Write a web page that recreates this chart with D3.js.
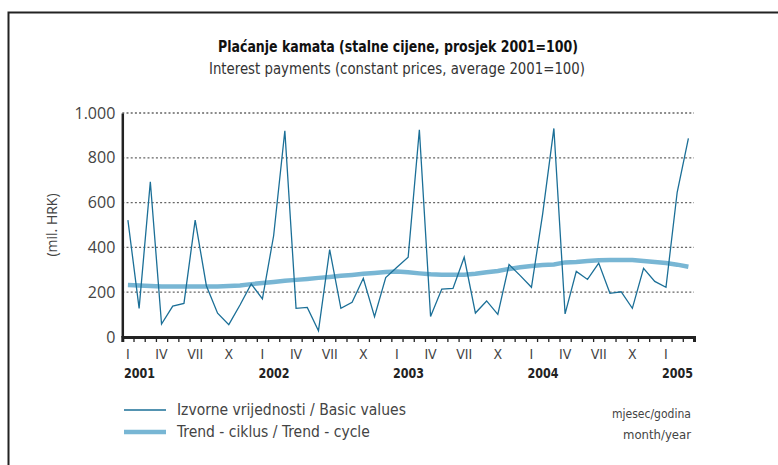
<!DOCTYPE html>
<html>
<head>
<meta charset="utf-8">
<script src="https://cdn.jsdelivr.net/npm/d3@7"></script>
<style>
  body { margin: 0; background: #fff; }
  svg text { font-family: "Liberation Sans Narrow", "DejaVu Sans Condensed", "Open Sans", sans-serif; fill: #333; }
</style>
</head>
<body>
<div id="chart"></div>
<script>
// Izvorne vrijednosti / Basic values, I 2001 - III 2005
var basicValues = [522, 128, 693, 58, 138, 150, 522, 229, 106, 55, 143, 237,
  170, 452, 921, 128, 132, 28, 390, 128, 155, 262, 91, 265,
  311, 356, 925, 92, 214, 217, 356, 107, 161, 101, 323, 274,
  222, 550, 931, 103, 293, 257, 330, 195, 202, 128, 307, 248,
  222, 646, 887];

// Trend - ciklus / Trend - cycle
var trendValues = [232, 230, 228, 226, 226, 226, 226, 226, 226, 228, 230, 236,
  241, 246, 251, 255, 259, 264, 268, 273, 277, 282, 286, 290,
  292, 289, 284, 280, 278, 278, 278, 282, 289, 295, 304, 311,
  317, 321, 324, 333, 335, 339, 343, 344, 344, 344, 339, 335,
  330, 323, 314];

var monthLabels = ["I", "II", "III", "IV", "V", "VI", "VII", "VIII", "IX", "X", "XI", "XII"];
var shownMonths = ["I", "IV", "VII", "X"];
var years = [2001, 2002, 2003, 2004, 2005];
var yTicks = [0, 200, 400, 600, 800, 1000];

var W = 778, H = 465;
var x0 = 122.3, x1 = 694, y0 = 337, y1 = 113;

var svg = d3.select("#chart").append("svg")
  .attr("width", W).attr("height", H);

// okvir
svg.append("rect")
  .attr("x", 8.5).attr("y", 12.5)
  .attr("width", 800).attr("height", 500)
  .attr("fill", "none").attr("stroke", "#222").attr("stroke-width", 2);

// naslovi
svg.append("text")
  .attr("x", 398).attr("y", 52)
  .attr("text-anchor", "middle")
  .style("font-size", "15px").style("font-weight", "bold").style("fill", "#111")
  .attr("textLength", 360).attr("lengthAdjust", "spacingAndGlyphs")
  .text("Plaćanje kamata (stalne cijene, prosjek 2001=100)");

svg.append("text")
  .attr("x", 397).attr("y", 74)
  .attr("text-anchor", "middle")
  .style("font-size", "15px")
  .attr("textLength", 376).attr("lengthAdjust", "spacingAndGlyphs")
  .text("Interest payments (constant prices, average 2001=100)");

var n = basicValues.length;
var x = d3.scaleLinear().domain([0, n]).range([x0, x1]);
var y = d3.scaleLinear().domain([0, 1000]).range([y0, y1]);

// mreža
svg.append("g").selectAll("line")
  .data(yTicks.filter(function (d) { return d > 0; }))
  .enter().append("line")
  .attr("x1", x0).attr("x2", x1)
  .attr("y1", function (d) { return y(d); })
  .attr("y2", function (d) { return y(d); })
  .attr("stroke", "#666").attr("stroke-width", 1.3)
  .attr("stroke-dasharray", "2,2.2");

// y os
var yAxis = d3.axisLeft(y).tickValues(yTicks).tickSize(0).tickPadding(7)
  .tickFormat(function (d) { return d3.format(",")(d).replace(",", "."); });

var gy = svg.append("g").attr("transform", "translate(" + x0 + ",0)").call(yAxis);
gy.select(".domain").attr("stroke", "#222").attr("stroke-width", 2.5);
gy.selectAll("text").style("font-size", "16px").style("fill", "#444")
  .style("font-family", "'Open Sans', sans-serif");

svg.append("text")
  .attr("transform", "translate(57,225) rotate(-90)")
  .attr("text-anchor", "middle")
  .style("font-size", "14px").style("fill", "#444")
  .style("font-family", "'Open Sans', sans-serif")
  .text("(mil. HRK)");

// x os
var xAxis = d3.axisBottom(x).tickValues(d3.range(0, n + 1)).tickSize(5)
  .tickFormat("");
var gx = svg.append("g").attr("transform", "translate(0," + y0 + ")").call(xAxis);
gx.select(".domain").attr("stroke", "#222").attr("stroke-width", 3);
gx.selectAll(".tick line").attr("stroke", "#222").attr("stroke-width", 1.3);

svg.append("g").selectAll("text")
  .data(d3.range(0, n).filter(function (i) {
    return shownMonths.indexOf(monthLabels[i % 12]) >= 0;
  }))
  .enter().append("text")
  .attr("x", function (i) { return x(i + 0.5); })
  .attr("y", 359)
  .attr("text-anchor", "middle")
  .style("font-size", "14px").style("fill", "#444")
  .text(function (i) { return monthLabels[i % 12]; });

svg.append("g").selectAll("text")
  .data(years)
  .enter().append("text")
  .attr("x", function (d, k) { return x(k * 12 + 0.5) - 4; })
  .attr("y", 378)
  .style("font-size", "14px").style("font-weight", "bold").style("fill", "#222")
  .attr("textLength", 31).attr("lengthAdjust", "spacingAndGlyphs")
  .text(function (d) { return d; });

// linije
var line = d3.line()
  .x(function (d, i) { return x(i + 0.5); })
  .y(function (d) { return y(d); });

svg.append("path")
  .datum(trendValues)
  .attr("d", line)
  .attr("fill", "none")
  .attr("stroke", "#78b6d4")
  .attr("stroke-width", 4.5);

svg.append("path")
  .datum(basicValues)
  .attr("d", line)
  .attr("fill", "none")
  .attr("stroke", "#1b6f97")
  .attr("stroke-width", 1.3)
  .attr("stroke-linejoin", "miter");

// legenda
var legend = [
  { label: "Izvorne vrijednosti / Basic values", color: "#1b6f97", w: 1.3, y: 410 },
  { label: "Trend - ciklus / Trend - cycle", color: "#78b6d4", w: 4.5, y: 432 }
];
var lg = svg.append("g").selectAll("g").data(legend).enter().append("g");
lg.append("line")
  .attr("x1", 124).attr("x2", 166)
  .attr("y1", function (d) { return d.y; }).attr("y2", function (d) { return d.y; })
  .attr("stroke", function (d) { return d.color; })
  .attr("stroke-width", function (d) { return d.w; });
lg.append("text")
  .attr("x", 177).attr("y", function (d) { return d.y + 5; })
  .style("font-size", "15.5px").style("fill", "#444")
  .text(function (d) { return d.label; });

svg.append("text")
  .attr("x", 691).attr("y", 418).attr("text-anchor", "end")
  .style("font-size", "13px").style("fill", "#444")
  .attr("textLength", 79).attr("lengthAdjust", "spacingAndGlyphs")
  .text("mjesec/godina");
svg.append("text")
  .attr("x", 691).attr("y", 439).attr("text-anchor", "end")
  .style("font-size", "13px").style("fill", "#444")
  .text("month/year");
</script>
</body>
</html>
